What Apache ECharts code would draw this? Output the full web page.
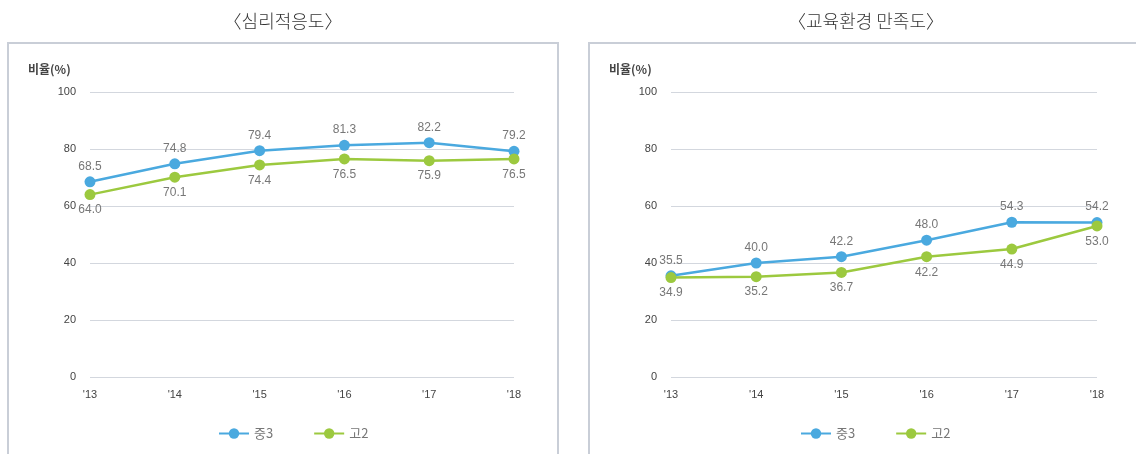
<!DOCTYPE html>
<html><head><meta charset="utf-8">
<script src="https://cdn.jsdelivr.net/npm/echarts@6/dist/echarts.min.js"></script>
<style>html,body{margin:0;padding:0;background:#fff}#c{width:1136px;height:454px}</style>
</head><body><div id="c"></div>
<script>
const years = ["'13","'14","'15","'16","'17","'18"];
const yTicks = [0,20,40,60,80,100];
const titles = ['〈심리적응도〉','〈교육환경 만족도〉'];
const seriesNames = ['중3','고2'];
const psychMid3 = [68.5,74.8,79.4,81.3,82.2,79.2];
const psychHigh2 = [64.0,70.1,74.4,76.5,75.9,76.5];
const eduMid3 = [35.5,40.0,42.2,48.0,54.3,54.2];
const eduHigh2 = [34.9,35.2,36.7,42.2,44.9,53.0];

const BLUE = '#4aa9df', GREEN = '#9cc93f';
const font = '"Liberation Sans", Arial, "Noto Sans CJK KR", sans-serif';
const cjk = '"Noto Sans CJK KR", sans-serif';
const chart = echarts.init(document.getElementById('c'));

function xAxis(i){return {type:'category',gridIndex:i,data:years,boundaryGap:false,
  axisLine:{show:false},axisTick:{show:false},
  axisLabel:{color:'#444',fontSize:11,fontFamily:font,margin:12}};}
function yAxis(i){return {type:'value',gridIndex:i,min:yTicks[0],max:yTicks[yTicks.length-1],interval:20,
  axisLine:{show:false},axisTick:{show:false},
  axisLabel:{color:'#444',fontSize:11,fontFamily:font,margin:14},
  splitLine:{lineStyle:{color:'#d3d7de',width:1}}};}
function ser(name,data,i,color,pos){return {name,type:'line',xAxisIndex:i,yAxisIndex:i,data,
  symbol:'circle',symbolSize:11,lineStyle:{width:2.5,color},itemStyle:{color},
  label:{show:true,position:pos,distance:4,color:'#777',fontSize:12,fontFamily:font,formatter:p=>p.value.toFixed(1)}};}

chart.setOption({
  animation:false,
  textStyle:{fontFamily:font},
  graphic:[
    {type:'rect',shape:{x:8,y:43,width:550,height:420},style:{fill:'none',stroke:'#c9ced7',lineWidth:2}},
    {type:'rect',shape:{x:589,y:43,width:560,height:420},style:{fill:'none',stroke:'#c9ced7',lineWidth:2}},
    {type:'text',x:283,y:21,style:{text:titles[0],align:'center',verticalAlign:'middle',fontSize:18,fill:'#333',fontFamily:cjk,fontWeight:300}},
    {type:'text',x:866,y:21,style:{text:titles[1],align:'center',verticalAlign:'middle',fontSize:18,fill:'#333',fontFamily:cjk,fontWeight:300}},
    {type:'text',x:28,y:69,style:{text:'비율(%)',verticalAlign:'middle',fontSize:12,fontWeight:'bold',fill:'#444',fontFamily:cjk}},
    {type:'text',x:609,y:69,style:{text:'비율(%)',verticalAlign:'middle',fontSize:12,fontWeight:'bold',fill:'#444',fontFamily:cjk}}
  ],
  legend:[
    {data:seriesNames,left:213,top:422,itemWidth:30,itemHeight:13,itemGap:40,textStyle:{color:'#777',fontSize:13,fontFamily:cjk}},
    {data:seriesNames,left:795,top:422,itemWidth:30,itemHeight:13,itemGap:40,textStyle:{color:'#777',fontSize:13,fontFamily:cjk}}
  ],
  grid:[
    {left:90,right:622,top:92,bottom:77},
    {left:671,right:39,top:92,bottom:77}
  ],
  xAxis:[xAxis(0),xAxis(1)],
  yAxis:[yAxis(0),yAxis(1)],
  series:[
    ser(seriesNames[0],psychMid3,0,BLUE,'top'),
    ser(seriesNames[1],psychHigh2,0,GREEN,'bottom'),
    ser(seriesNames[0],eduMid3,1,BLUE,'top'),
    ser(seriesNames[1],eduHigh2,1,GREEN,'bottom')
  ]
});
</script></body></html>
